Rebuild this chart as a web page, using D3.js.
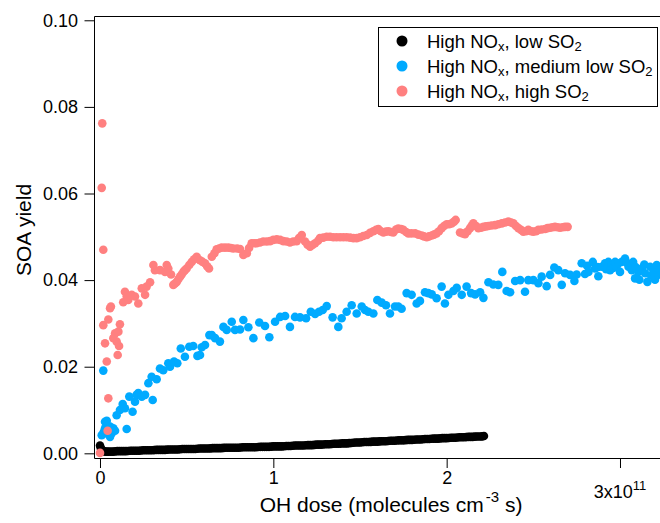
<!DOCTYPE html>
<html>
<head>
<meta charset="utf-8">
<script src="https://cdn.jsdelivr.net/npm/d3@7"></script>
<style>
  html, body { margin: 0; padding: 0; background: #fff; }
  svg { display: block; }
  text { font-family: "Liberation Sans", Arial, Helvetica, sans-serif; fill: #000; }
</style>
</head>
<body>
<svg id="chart" width="660" height="523"></svg>
<script>
// OH dose in units of 1e11 molecules cm^-3 s, SOA yield as a fraction.
const seriesLabels = ["High NO_x, low SO_2", "High NO_x, medium low SO_2", "High NO_x, high SO_2"];
const seriesColors = ["#000000", "#00AAFF", "#FF8080"];

const xTicks = [0, 1, 2, 3];
const yTicks = [0, 0.02, 0.04, 0.06, 0.08, 0.10];

// High NOx, low SO2
const lowSO2 = [
  [0.000,0.0018],[0.004,0.0013],[0.008,0.0009],[0.0125,0.0007],[0.020,0.0005],[0.030,0.0004],[0.040,0.0004],
  [0.050,0.0004],[0.075,0.0004],
  [0.100,0.0005],[0.125,0.0005],[0.150,0.0005],[0.175,0.0006],[0.200,0.0006],[0.225,0.0006],[0.250,0.0007],
  [0.275,0.0007],[0.300,0.0007],[0.325,0.0008],[0.350,0.0008],[0.375,0.0008],[0.400,0.0009],[0.425,0.0009],
  [0.450,0.0009],[0.475,0.0010],[0.500,0.0010],[0.525,0.0010],[0.550,0.0010],[0.575,0.0011],[0.600,0.0011],
  [0.625,0.0011],[0.650,0.0012],[0.675,0.0012],[0.700,0.0012],[0.725,0.0013],[0.750,0.0013],[0.775,0.0013],
  [0.800,0.0013],[0.825,0.0014],[0.850,0.0014],[0.875,0.0014],[0.900,0.0014],[0.925,0.0015],[0.950,0.0015],
  [0.975,0.0015],[1.000,0.0016],[1.025,0.0016],[1.050,0.0016],[1.075,0.0017],[1.100,0.0017],[1.125,0.0018],
  [1.150,0.0018],[1.175,0.0018],[1.200,0.0019],[1.225,0.0019],[1.250,0.0020],[1.275,0.0020],[1.300,0.0021],
  [1.325,0.0021],[1.350,0.0022],[1.375,0.0022],[1.400,0.0023],[1.425,0.0023],[1.450,0.0024],[1.475,0.0025],
  [1.500,0.0025],[1.525,0.0026],[1.550,0.0026],[1.575,0.0027],[1.600,0.0027],[1.625,0.0028],[1.650,0.0028],
  [1.675,0.0029],[1.700,0.0029],[1.725,0.0030],[1.750,0.0030],[1.775,0.0031],[1.800,0.0031],[1.825,0.0032],
  [1.850,0.0032],[1.875,0.0033],[1.900,0.0033],[1.925,0.0034],[1.950,0.0034],[1.975,0.0035],[2.000,0.0035],
  [2.025,0.0036],[2.050,0.0036],[2.075,0.0037],[2.100,0.0037],[2.125,0.0038],[2.150,0.0038],[2.175,0.0039],
  [2.200,0.0039],[2.215,0.0040],
  [0.0625,0.00040],[0.0875,0.00045],[0.1125,0.00050],[0.1375,0.00050],[0.1625,0.00055],[0.1875,0.00060],
  [0.2125,0.00060],[0.2375,0.00065],[0.2625,0.00070],[0.2875,0.00070],[0.3125,0.00075],[0.3375,0.00080],
  [0.3625,0.00080],[0.3875,0.00085],[0.4125,0.00090],[0.4375,0.00090],[0.4625,0.00095],[0.4875,0.00100],
  [0.5125,0.00100],[0.5375,0.00100],[0.5625,0.00105],[0.5875,0.00110],[0.6125,0.00110],[0.6375,0.00115],
  [0.6625,0.00120],[0.6875,0.00120],[0.7125,0.00125],[0.7375,0.00130],[0.7625,0.00130],[0.7875,0.00130],
  [0.8125,0.00135],[0.8375,0.00140],[0.8625,0.00140],[0.8875,0.00140],[0.9125,0.00145],[0.9375,0.00150],
  [0.9625,0.00150],[0.9875,0.00155],[1.0125,0.00160],[1.0375,0.00160],[1.0625,0.00165],[1.0875,0.00170],
  [1.1125,0.00175],[1.1375,0.00180],[1.1625,0.00180],[1.1875,0.00185],[1.2125,0.00190],[1.2375,0.00195],
  [1.2625,0.00200],[1.2875,0.00205],[1.3125,0.00210],[1.3375,0.00215],[1.3625,0.00220],[1.3875,0.00225],
  [1.4125,0.00230],[1.4375,0.00235],[1.4625,0.00245],[1.4875,0.00250],[1.5125,0.00255],[1.5375,0.00260],
  [1.5625,0.00265],[1.5875,0.00270],[1.6125,0.00275],[1.6375,0.00280],[1.6625,0.00285],[1.6875,0.00290],
  [1.7125,0.00295],[1.7375,0.00300],[1.7625,0.00305],[1.7875,0.00310],[1.8125,0.00315],[1.8375,0.00320],
  [1.8625,0.00325],[1.8875,0.00330],[1.9125,0.00335],[1.9375,0.00340],[1.9625,0.00345],[1.9875,0.00350],
  [2.0125,0.00355],[2.0375,0.00360],[2.0625,0.00365],[2.0875,0.00370],[2.1125,0.00375],[2.1375,0.00380],
  [2.1625,0.00385],[2.1875,0.00390],[2.2075,0.00395]
];

// High NOx, medium low SO2
const medLowSO2 = [
  [0.010,0.0042],[0.019,0.0191],[0.022,0.0050],[0.029,0.0058],[0.029,0.0073],[0.039,0.0075],[0.039,0.0046],
  [0.050,0.0058],[0.058,0.0038],[0.058,0.0062],[0.067,0.0054],[0.067,0.0046],[0.077,0.0058],[0.087,0.0052],
  [0.096,0.0088],[0.115,0.0100],[0.131,0.0114],[0.144,0.0104],[0.154,0.0056],[0.169,0.0131],[0.188,0.0096],
  [0.202,0.0119],[0.211,0.0135],[0.221,0.0139],[0.241,0.0131],[0.260,0.0135],[0.279,0.0162],[0.298,0.0177],
  [0.304,0.0123],[0.327,0.0171],[0.346,0.0196],[0.365,0.0192],[0.394,0.0208],[0.404,0.0200],[0.427,0.0212],
  [0.446,0.0208],[0.466,0.0242],[0.490,0.0223],[0.515,0.0246],[0.538,0.0248],[0.562,0.0225],[0.577,0.0227],
  [0.587,0.0245],[0.606,0.0250],[0.631,0.0273],[0.645,0.0273],[0.664,0.0266],[0.692,0.0258],[0.712,0.0292],
  [0.731,0.0285],[0.760,0.0304],[0.779,0.0285],[0.808,0.0286],[0.827,0.0308],[0.856,0.0291],[0.885,0.0266],
  [0.919,0.0302],[0.952,0.0294],[0.977,0.0268],[1.010,0.0304],[1.039,0.0315],[1.068,0.0317],[1.096,0.0292],
  [1.125,0.0315],[1.154,0.0314],[1.189,0.0312],[1.216,0.0327],[1.241,0.0322],[1.264,0.0327],[1.285,0.0331],
  [1.308,0.0340],[1.342,0.0314],[1.375,0.0292],[1.394,0.0312],[1.423,0.0327],[1.452,0.0342],[1.481,0.0323],
  [1.510,0.0339],[1.529,0.0331],[1.548,0.0327],[1.577,0.0323],[1.600,0.0354],[1.625,0.0348],[1.650,0.0342],
  [1.673,0.0323],[1.702,0.0339],[1.721,0.0339],[1.740,0.0334],[1.769,0.0370],[1.798,0.0366],[1.827,0.0346],
  [1.846,0.0352],[1.875,0.0372],[1.894,0.0370],[1.914,0.0367],[1.942,0.0358],[1.971,0.0385],[1.990,0.0346],
  [2.010,0.0366],[2.039,0.0375],[2.058,0.0382],[2.087,0.0366],[2.115,0.0385],[2.141,0.0370],[2.164,0.0367],
  [2.193,0.0372],[2.212,0.0359],[2.241,0.0395],[2.269,0.0390],[2.298,0.0389],[2.321,0.0419],[2.346,0.0375],
  [2.366,0.0372],[2.395,0.0398],[2.424,0.0400],[2.452,0.0373],[2.471,0.0400],[2.500,0.0400],[2.529,0.0393],
  [2.548,0.0408],[2.577,0.0386],[2.597,0.0412],[2.621,0.0429],[2.644,0.0423],[2.664,0.0389],[2.683,0.0416],
  [2.712,0.0412],[2.737,0.0398],[2.750,0.0413],[2.779,0.0439],[2.798,0.0414],[2.810,0.0433],[2.818,0.0419],
  [2.843,0.0442],[2.856,0.0427],[2.870,0.0430],[2.875,0.0409],[2.895,0.0431],[2.914,0.0439],[2.920,0.0425],
  [2.933,0.0442],[2.943,0.0423],[2.952,0.0435],[2.960,0.0428],[2.972,0.0442],[2.980,0.0430],[2.991,0.0439],
  [3.000,0.0419],[3.010,0.0442],[3.029,0.0450],[3.040,0.0440],[3.049,0.0431],[3.068,0.0423],[3.076,0.0442],
  [3.087,0.0404],[3.090,0.0430],[3.106,0.0419],[3.112,0.0401],[3.126,0.0427],[3.140,0.0436],[3.145,0.0416],
  [3.158,0.0396],[3.174,0.0431],[3.180,0.0410],[3.193,0.0419],[3.202,0.0401],[3.212,0.0435],[3.220,0.0412],
  [3.227,0.0423]
];

// High NOx, high SO2
const highSO2 = [
  [0.000,0.0001],[0.010,0.0613],[0.013,0.0762],[0.019,0.0470],[0.019,0.0296],[0.029,0.0254],[0.039,0.0212],
  [0.044,0.0052],[0.048,0.0127],[0.048,0.0309],[0.058,0.0335],[0.063,0.0339],[0.077,0.0266],[0.087,0.0277],
  [0.096,0.0258],[0.102,0.0227],[0.106,0.0281],[0.110,0.0248],[0.115,0.0298],[0.134,0.0349],[0.144,0.0373],
  [0.154,0.0362],[0.163,0.0354],[0.183,0.0366],[0.202,0.0362],[0.221,0.0346],[0.241,0.0381],[0.260,0.0366],
  [0.269,0.0385],[0.289,0.0395],[0.308,0.0435],[0.317,0.0423],[0.346,0.0423],[0.375,0.0419],[0.385,0.0435],
  [0.394,0.0427],[0.410,0.0413],[0.423,0.0389],[0.433,0.0392],[0.443,0.0396],[0.452,0.0402],[0.462,0.0408],
  [0.471,0.0413],[0.481,0.0419],[0.490,0.0423],[0.500,0.0427],[0.515,0.0435],[0.529,0.0442],[0.543,0.0448],
  [0.558,0.0454],[0.577,0.0446],[0.592,0.0442],[0.606,0.0439],[0.618,0.0432],[0.629,0.0427],[0.645,0.0454],
  [0.660,0.0462],[0.673,0.0471],[0.687,0.0473],[0.702,0.0475],[0.721,0.0475],[0.740,0.0475],[0.755,0.0474],
  [0.769,0.0473],[0.791,0.0473],[0.808,0.0472],[0.827,0.0458],[0.847,0.0462],[0.860,0.0474],[0.875,0.0485],
  [0.890,0.0485],[0.904,0.0485],[0.923,0.0487],[0.942,0.0489],[0.962,0.0489],[0.981,0.0490],[1.000,0.0493],
  [1.020,0.0494],[1.039,0.0493],[1.058,0.0490],[1.077,0.0489],[1.096,0.0487],[1.115,0.0489],[1.135,0.0490],
  [1.148,0.0497],[1.164,0.0504],[1.183,0.0489],[1.197,0.0482],[1.212,0.0477],[1.226,0.0481],[1.241,0.0485],
  [1.258,0.0491],[1.269,0.0497],[1.288,0.0498],[1.308,0.0500],[1.327,0.0500],[1.346,0.0499],[1.365,0.0499],
  [1.385,0.0499],[1.404,0.0499],[1.423,0.0499],[1.443,0.0498],[1.462,0.0497],[1.481,0.0497],[1.500,0.0499],
  [1.519,0.0502],[1.539,0.0504],[1.558,0.0509],[1.577,0.0513],[1.593,0.0516],[1.606,0.0518],[1.621,0.0513],
  [1.635,0.0510],[1.650,0.0512],[1.664,0.0513],[1.679,0.0511],[1.692,0.0510],[1.708,0.0517],[1.721,0.0519],
  [1.737,0.0518],[1.750,0.0516],[1.766,0.0511],[1.779,0.0508],[1.797,0.0508],[1.818,0.0508],[1.837,0.0505],
  [1.856,0.0503],[1.869,0.0501],[1.885,0.0499],[1.898,0.0501],[1.914,0.0503],[1.927,0.0505],[1.942,0.0508],
  [1.956,0.0513],[1.971,0.0520],[1.985,0.0525],[2.000,0.0529],[2.014,0.0529],[2.029,0.0531],[2.043,0.0535],
  [2.052,0.0539],[2.077,0.0510],[2.092,0.0508],[2.106,0.0506],[2.121,0.0513],[2.135,0.0520],[2.145,0.0526],
  [2.154,0.0531],[2.170,0.0525],[2.183,0.0520],[2.198,0.0521],[2.212,0.0523],[2.227,0.0524],[2.241,0.0525],
  [2.259,0.0526],[2.279,0.0527],[2.298,0.0529],[2.318,0.0531],[2.337,0.0533],[2.356,0.0535],[2.372,0.0533],
  [2.385,0.0531],[2.400,0.0525],[2.414,0.0520],[2.429,0.0516],[2.442,0.0512],[2.458,0.0513],[2.471,0.0516],
  [2.487,0.0513],[2.500,0.0512],[2.516,0.0513],[2.529,0.0516],[2.548,0.0517],[2.568,0.0518],[2.582,0.0520],
  [2.597,0.0521],[2.611,0.0522],[2.625,0.0523],[2.640,0.0522],[2.654,0.0521],[2.669,0.0522],[2.683,0.0523],
  [2.698,0.0523]
];

const seriesData = [lowSO2, medLowSO2, highSO2];

const svg = d3.select("#chart");

const x = d3.scaleLinear().domain([-0.0346, 3.2308]).range([94, 660]);
const y = d3.scaleLinear().domain([-0.00108, 0.10099]).range([458, 16]);

// frame: top edge of the plot area
svg.append("line")
  .attr("x1", x.range()[0] + 0.5).attr("x2", x.range()[1])
  .attr("y1", y.range()[1] + 0.5).attr("y2", y.range()[1] + 0.5)
  .attr("stroke", "#000").attr("stroke-width", 1);

// left axis
const yAxis = svg.append("g")
  .attr("transform", `translate(${x.range()[0]},0)`)
  .call(d3.axisLeft(y).tickValues(yTicks).tickFormat(d3.format(".2f"))
    .tickSize(9.5).tickSizeOuter(0).tickPadding(6.5));
yAxis.selectAll("text").style("font-size", "18px");

// bottom axis; the last tick carries the x10^11 multiplier
const xAxis = svg.append("g")
  .attr("transform", `translate(0,${y.range()[0]})`)
  .call(d3.axisBottom(x).tickValues(xTicks).tickFormat(d => d === 3 ? "" : d3.format("d")(d))
    .tickSize(10).tickSizeOuter(0).tickPadding(3.5));
xAxis.selectAll("text").style("font-size", "18px");

[yAxis, xAxis].forEach(g => {
  g.selectAll("path, line").attr("stroke", "#000");
  g.attr("font-family", null).attr("font-size", null);
});

const mult = svg.append("text")
  .attr("x", x(3)).attr("y", 498)
  .attr("text-anchor", "middle")
  .style("font-size", "18px");
mult.append("tspan").text("3x10");
mult.append("tspan").attr("dy", -8).style("font-size", "13px").text("11");

// axis titles
svg.append("text")
  .attr("transform", "translate(31,230) rotate(-90)")
  .attr("text-anchor", "middle")
  .style("font-size", "21px")
  .text("SOA yield");

const xt = svg.append("text")
  .attr("x", 391).attr("y", 512)
  .attr("text-anchor", "middle")
  .style("font-size", "21px");
xt.append("tspan").text("OH dose (molecules cm");
xt.append("tspan").attr("dy", -10).attr("dx", 2).style("font-size", "15px").text("-3");
xt.append("tspan").attr("dy", 10).text(" s)");

// markers
const marks = svg.append("g");
seriesData.forEach((data, i) => {
  marks.append("g")
    .selectAll("circle")
    .data(data)
    .join("circle")
    .attr("cx", d => x(d[0]))
    .attr("cy", d => y(d[1]))
    .attr("r", 4.3)
    .attr("fill", seriesColors[i]);
});

// legend
const legend = svg.append("g");
legend.append("rect")
  .attr("x", 378.5).attr("y", 27.5)
  .attr("width", 279).attr("height", 79)
  .attr("fill", "#fff").attr("stroke", "#000").attr("stroke-width", 1);

seriesLabels.forEach((label, i) => {
  const cy = 41 + i * 25;
  legend.append("circle")
    .attr("cx", 402).attr("cy", cy).attr("r", 5.5)
    .attr("fill", seriesColors[i]);
  const t = legend.append("text")
    .attr("x", 427).attr("y", cy + 6.5)
    .style("font-size", "18.5px");
  // "_c" marks a one-character subscript
  const parts = label.split(/(_\w)/).filter(s => s.length);
  let lowered = false;
  parts.forEach(p => {
    if (p.startsWith("_")) {
      t.append("tspan").attr("dy", 3.5).style("font-size", "13px").text(p.slice(1));
      lowered = true;
    } else {
      t.append("tspan").attr("dy", lowered ? -3.5 : 0).text(p);
      lowered = false;
    }
  });
});
</script>
</body>
</html>
